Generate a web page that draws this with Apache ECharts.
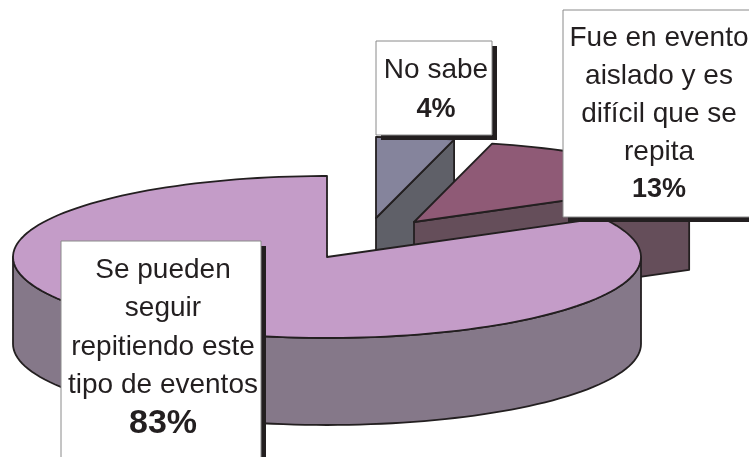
<!DOCTYPE html>
<html>
<head>
<meta charset="utf-8">
<title>Pie</title>
<style>
html,body{margin:0;padding:0;background:#fff;}
#chart{width:749px;height:457px;}
</style>
<script src="https://cdn.jsdelivr.net/npm/echarts@6/dist/echarts.min.js"></script>
</head>
<body>
<div id="chart"></div>
<script>
// data, clockwise from 12 o'clock
var categories = [
    ["No sabe"],
    ["Fue en evento", "aislado y es", "difícil que se", "repita"],
    ["Se pueden", "seguir", "repitiendo este", "tipo de eventos"]
];
var percents = [4, 13, 83];

// styles
var topColors = ["#85849c", "#8f5a76", "#c49cc8"];
var sideColors = ["#5f6068", "#654e5a", "#857889"];
var lineColor = "#231f20";

// layout of the pie
var cx = 327, cy = 257, rx = 314, ry = 81, depth = 87;
var offsets = [[49, -39], [87, -35], [0, 0]];

// layout of the callouts: x, y, w, h, text centre, first line y, line step, size of the percent
var boxes = [
    {x: 376, y: 41, w: 116, h: 94, cx: 436, ty: 70, step: 40, pct: 27},
    {x: 563, y: 10, w: 195, h: 207, cx: 659, ty: 38, step: 38, pct: 27},
    {x: 61, y: 241, w: 200, h: 220, cx: 163, ty: 270, step: 38.5, pct: 34}
];
var shadowOff = 5;

function toRad(d){ return d * Math.PI / 180; }

function ringPoint(c, deg, dy){
    return [c[0] + rx * Math.sin(toRad(deg)), c[1] - ry * Math.cos(toRad(deg)) + (dy || 0)];
}

function arcPoints(c, from, to, dy){
    var pts = [];
    for (var a = from; a < to; a += 2) {
        pts.push(ringPoint(c, a, dy));
    }
    pts.push(ringPoint(c, to, dy));
    return pts;
}

function face(points, fill){
    return {
        type: "polygon",
        shape: {points: points},
        style: {fill: fill, stroke: lineColor, lineWidth: 1.8, lineJoin: "round"}
    };
}

function renderSlice(params, api){
    var i = params.dataIndex;
    var before = 0;
    for (var k = 0; k < i; k++) {
        before += percents[k];
    }
    var a0 = before * 3.6, a1 = (before + api.value(0)) * 3.6;
    var c = [cx + offsets[i][0], cy + offsets[i][1]];
    var children = [];

    // cut face, only when it looks to the front
    if (Math.sin(toRad(a1)) > 0.001) {
        var e = ringPoint(c, a1);
        children.push(face([c, e, [e[0], e[1] + depth], [c[0], c[1] + depth]], sideColors[i]));
    }
    // outer wall, front half of the ring
    var w0 = Math.max(a0, 90), w1 = Math.min(a1, 270);
    if (w1 > w0) {
        var upper = arcPoints(c, w0, w1);
        var lower = arcPoints(c, w0, w1, depth).reverse();
        children.push(face(upper.concat(lower), sideColors[i]));
    }
    children.push(face([c].concat(arcPoints(c, a0, a1)), topColors[i]));
    return {type: "group", children: children};
}

function renderBox(params, api){
    var i = params.dataIndex;
    var b = boxes[i];
    var lines = categories[i];
    var children = [
        {type: "rect", shape: {x: b.x + shadowOff, y: b.y + shadowOff, width: b.w, height: b.h},
            style: {fill: lineColor}},
        {type: "rect", shape: {x: b.x, y: b.y, width: b.w, height: b.h},
            style: {fill: "#fff", stroke: "#8a8a8a", lineWidth: 1}}
    ];
    for (var n = 0; n < lines.length; n++) {
        children.push({
            type: "text",
            style: {
                x: b.cx, y: b.ty + n * b.step, text: lines[n], align: "center", verticalAlign: "middle",
                fill: lineColor, font: "28px 'Liberation Sans'"
            }
        });
    }
    children.push({
        type: "text",
        style: {
            x: b.cx, y: b.ty + lines.length * b.step, text: api.value(0) + "%", align: "center", verticalAlign: "middle",
            fill: lineColor, font: "bold " + b.pct + "px 'Liberation Sans'"
        }
    });
    return {type: "group", children: children};
}

var chart = echarts.init(document.getElementById("chart"));
chart.setOption({
    animation: false,
    backgroundColor: "#fff",
    series: [
        {type: "custom", coordinateSystem: "none", silent: true, z: 1, data: percents, renderItem: renderSlice},
        {type: "custom", coordinateSystem: "none", silent: true, z: 2, data: percents, renderItem: renderBox}
    ]
});
</script>
</body>
</html>
